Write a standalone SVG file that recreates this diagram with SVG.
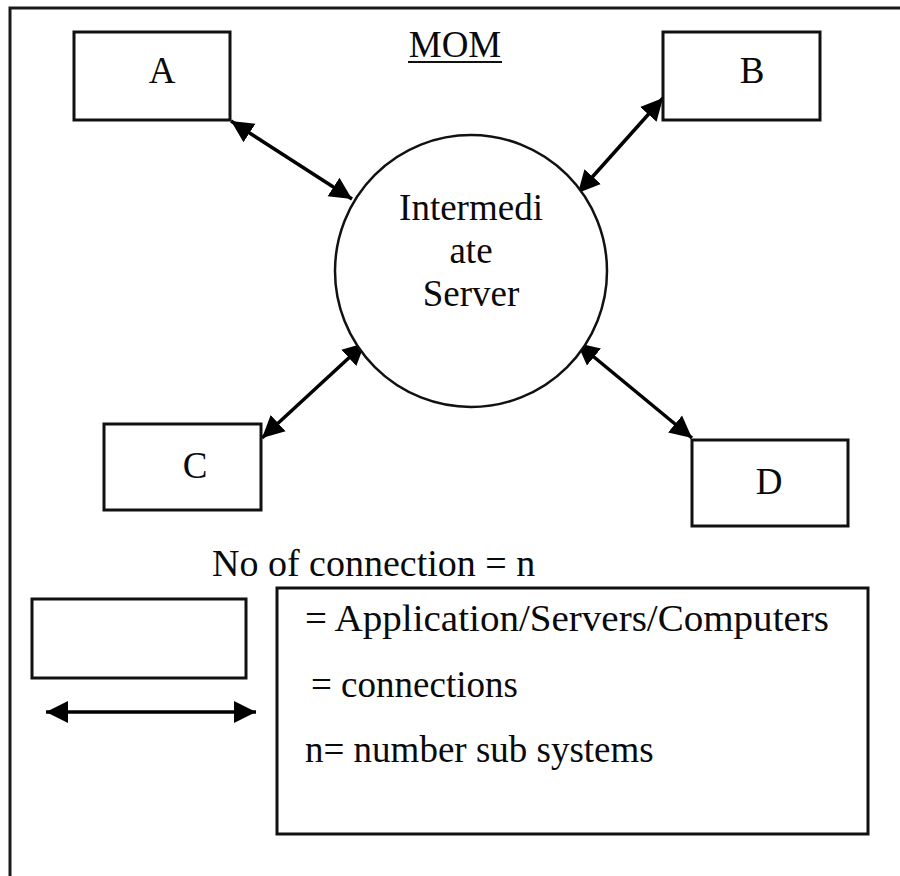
<svg xmlns="http://www.w3.org/2000/svg" width="900" height="876" viewBox="0 0 900 876">
  <defs>
    <style>
      .frame { fill: none; stroke: #1a1a1a; stroke-width: 3; }
      .box { fill: #ffffff; stroke: #111111; stroke-width: 3; }
      .hub { fill: #ffffff; stroke: #111111; stroke-width: 2.5; }
      .link { stroke: #000000; stroke-width: 3.5; fill: none; marker-start: url(#head); marker-end: url(#head); }
      .label { font-family: "Liberation Serif", "Times New Roman", serif; font-size: 37px; fill: #0a0a0a; }
      .key { font-size: 38px; }
      .mid { text-anchor: middle; }
    </style>
    <marker id="head" markerUnits="userSpaceOnUse" markerWidth="24" markerHeight="24" viewBox="0 0 24 24" refX="22" refY="12" orient="auto-start-reverse">
      <path d="M0,1 L22,12 L0,23 Z" fill="#000000"/>
    </marker>
  </defs>

  <rect width="900" height="876" fill="#ffffff"/>

  <!-- outer frame (open to the right and bottom) -->
  <path class="frame" d="M10,876 V8 H900"/>

  <!-- title -->
  <g id="title">
    <text class="label mid" x="455" y="57">MOM</text>
    <line x1="408" y1="62" x2="502" y2="62" stroke="#111111" stroke-width="2"/>
  </g>

  <!-- connectors -->
  <g id="connectors">
    <line class="link" x1="231" y1="121" x2="352" y2="199"/>
    <line class="link" x1="663" y1="98" x2="578" y2="193"/>
    <line class="link" x1="262" y1="438" x2="365" y2="343"/>
    <line class="link" x1="577" y1="343" x2="692" y2="438"/>
  </g>

  <!-- central server -->
  <g id="server">
    <circle class="hub" cx="471" cy="271" r="136"/>
    <text class="label mid" x="471" y="220">Intermedi</text>
    <text class="label mid" x="471" y="263">ate</text>
    <text class="label mid" x="471" y="306">Server</text>
  </g>

  <!-- subsystems -->
  <g id="node-a">
    <rect class="box" x="74" y="32" width="156" height="88"/>
    <text class="label mid" x="162" y="83">A</text>
  </g>
  <g id="node-b">
    <rect class="box" x="663" y="32" width="157" height="88"/>
    <text class="label mid" x="752" y="83">B</text>
  </g>
  <g id="node-c">
    <rect class="box" x="104" y="424" width="157" height="86"/>
    <text class="label mid" x="195" y="478">C</text>
  </g>
  <g id="node-d">
    <rect class="box" x="692" y="440" width="156" height="86"/>
    <text class="label mid" x="769" y="494">D</text>
  </g>

  <!-- legend -->
  <g id="legend">
    <text class="label key" x="212" y="576">No of connection = n</text>
    <rect class="box" x="32" y="599" width="214" height="79"/>
    <line class="link" x1="46" y1="712" x2="256" y2="712"/>
    <rect class="box" x="277" y="588" width="591" height="246"/>
    <text class="label key" x="305" y="631" textLength="524" lengthAdjust="spacingAndGlyphs">= Application/Servers/Computers</text>
    <text class="label" x="311" y="697">= connections</text>
    <text class="label" x="305" y="762">n= number sub systems</text>
  </g>
</svg>
